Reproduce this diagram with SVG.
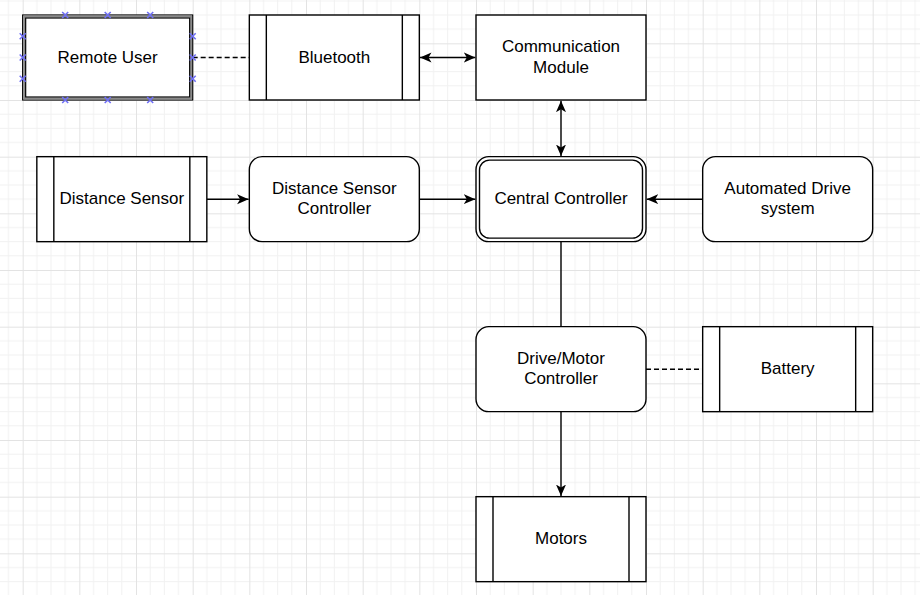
<svg xmlns="http://www.w3.org/2000/svg" width="920" height="595" viewBox="0 0 920 595">
<defs>
<pattern id="grid" patternUnits="userSpaceOnUse" x="22.67" y="-13.33" width="56.667" height="56.667">
<path d="M14.17,0V56.667M28.33,0V56.667M42.5,0V56.667M0,14.17H56.667M0,28.33H56.667M0,42.5H56.667" stroke="#f1f1f1" stroke-width="1" fill="none"/>
<path d="M0.5,0V56.667M0,0.5H56.667" stroke="#e3e3e3" stroke-width="1" fill="none"/>
</pattern>
<marker id="arr" viewBox="0 0 12 12" refX="11.5" refY="6" markerWidth="12" markerHeight="12" markerUnits="userSpaceOnUse" orient="auto-start-reverse">
<path d="M0,1 L11.5,6 L0,11 L3,6 Z" fill="#000"/>
</marker>
</defs>
<style>
.box{fill:#fff;stroke:#000;stroke-width:1.4}
.ln{stroke:#000;stroke-width:1.4;fill:none}
.edge{stroke:#000;stroke-width:1.4;fill:none}
.dash{stroke-dasharray:5 3}
.t{font-family:"Liberation Sans",Arial,sans-serif;font-size:17px;fill:#000;text-anchor:middle}
.pt{stroke:#6f6ff5;stroke-width:1.6;fill:none}
</style>
<rect width="920" height="595" fill="#fff"/>
<rect width="920" height="595" fill="url(#grid)"/>

<g id="connectors">
<line class="edge dash" x1="192.67" y1="57.5" x2="249.33" y2="57.5"/>
<line class="edge" x1="420" y1="57.5" x2="475.3" y2="57.5" marker-start="url(#arr)" marker-end="url(#arr)"/>
<line class="edge" x1="561" y1="100.7" x2="561" y2="156" marker-start="url(#arr)" marker-end="url(#arr)"/>
<line class="edge" x1="206.83" y1="199.2" x2="248.6" y2="199.2" marker-end="url(#arr)"/>
<line class="edge" x1="419.33" y1="199.2" x2="475.3" y2="199.2" marker-end="url(#arr)"/>
<line class="edge" x1="702.67" y1="199.2" x2="646.7" y2="199.2" marker-end="url(#arr)"/>
<line class="edge" x1="561" y1="241.67" x2="561" y2="326.67"/>
<line class="edge dash" x1="646" y1="369.2" x2="702.67" y2="369.2"/>
<line class="edge" x1="561" y1="411.67" x2="561" y2="496" marker-end="url(#arr)"/>
</g>

<g id="remote-user">
<rect x="22.67" y="15" width="170" height="85" fill="#fff" stroke="#000" stroke-width="1.2"/>
<rect x="24.17" y="16.5" width="167" height="82" fill="none" stroke="#8a8a8a" stroke-width="2"/>
<rect x="25.67" y="18" width="164" height="79" fill="#fff" stroke="#000" stroke-width="1.2"/>
<text class="t" x="107.67" y="62.5">Remote User</text>
<path class="pt" d="M62.2,12l6,6m0,-6l-6,6M104.7,12l6,6m0,-6l-6,6M147.2,12l6,6m0,-6l-6,6M62.2,97l6,6m0,-6l-6,6M104.7,97l6,6m0,-6l-6,6M147.2,97l6,6m0,-6l-6,6M19.7,33.25l6,6m0,-6l-6,6M19.7,54.5l6,6m0,-6l-6,6M19.7,75.75l6,6m0,-6l-6,6M189.7,33.25l6,6m0,-6l-6,6M189.7,54.5l6,6m0,-6l-6,6M189.7,75.75l6,6m0,-6l-6,6"/>
</g>

<g id="bluetooth">
<rect class="box" x="249.33" y="15" width="170" height="85"/>
<path class="ln" d="M266.33,15V100M402.33,15V100"/>
<text class="t" x="334.33" y="62.5">Bluetooth</text>
</g>

<g id="communication-module">
<rect class="box" x="476" y="15" width="170" height="85"/>
<text class="t" x="561" y="52.3">Communication</text>
<text class="t" x="561" y="72.7">Module</text>
</g>

<g id="distance-sensor">
<rect class="box" x="36.83" y="156.67" width="170" height="85"/>
<path class="ln" d="M53.83,156.67V241.67M189.83,156.67V241.67"/>
<text class="t" x="121.83" y="204.2">Distance Sensor</text>
</g>

<g id="distance-sensor-controller">
<rect class="box" x="249.33" y="156.67" width="170" height="85" rx="12.75"/>
<text class="t" x="334.33" y="194">Distance Sensor</text>
<text class="t" x="334.33" y="214.4">Controller</text>
</g>

<g id="central-controller">
<rect class="box" x="476" y="156.67" width="170" height="85" rx="12.75"/>
<rect class="box" x="479.5" y="160.17" width="163" height="78" rx="10"/>
<text class="t" x="561" y="204.2">Central Controller</text>
</g>

<g id="automated-drive-system">
<rect class="box" x="702.67" y="156.67" width="170" height="85" rx="12.75"/>
<text class="t" x="787.67" y="194">Automated Drive</text>
<text class="t" x="787.67" y="214.4">system</text>
</g>

<g id="drive-motor-controller">
<rect class="box" x="476" y="326.67" width="170" height="85" rx="12.75"/>
<text class="t" x="561" y="364">Drive/Motor</text>
<text class="t" x="561" y="384.4">Controller</text>
</g>

<g id="battery">
<rect class="box" x="702.67" y="326.67" width="170" height="85"/>
<path class="ln" d="M719.67,326.67V411.67M855.67,326.67V411.67"/>
<text class="t" x="787.67" y="374.2">Battery</text>
</g>

<g id="motors">
<rect class="box" x="476" y="496.67" width="170" height="85"/>
<path class="ln" d="M493,496.67V581.67M629,496.67V581.67"/>
<text class="t" x="561" y="544.2">Motors</text>
</g>
</svg>
